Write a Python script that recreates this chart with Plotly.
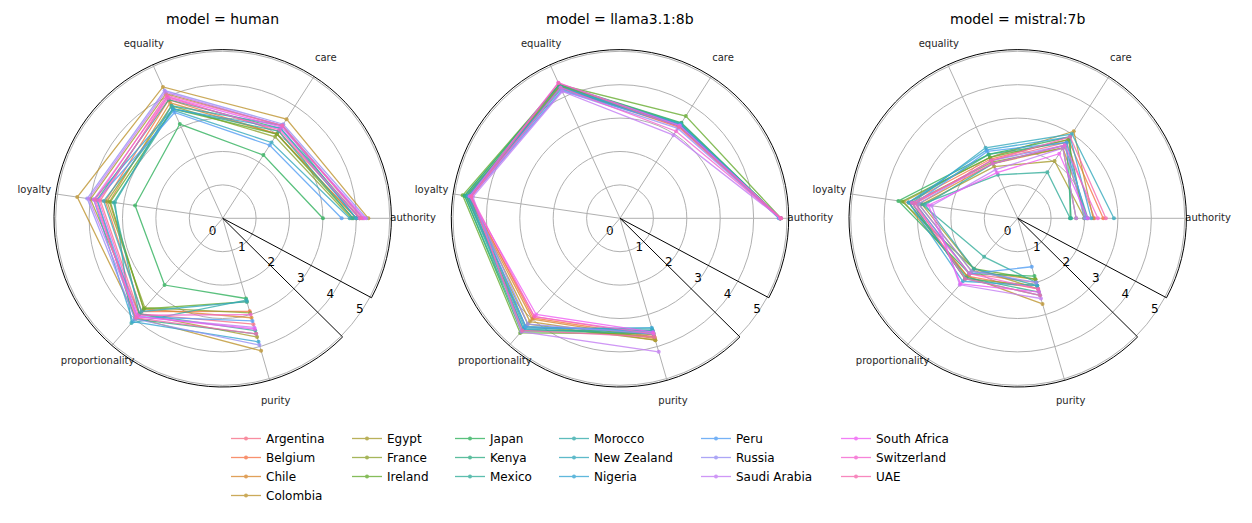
import math
import numpy as np
import plotly.graph_objects as go

# moral foundation dimensions, in the order they go round the radar
dimensions = ["authority", "care", "equality", "loyalty", "proportionality", "purity"]

countries = [
    "Argentina", "Belgium", "Chile", "Colombia", "Egypt", "France", "Ireland",
    "Japan", "Kenya", "Mexico", "Morocco", "New Zealand", "Nigeria", "Peru",
    "Russia", "Saudi Arabia", "South Africa", "Switzerland", "UAE",
]

models = ["human", "llama3.1:8b", "mistral:7b"]

# one row per country: authority, care, equality, loyalty, proportionality, purity
human_scores = [
    [4.10, 3.10, 4.00, 3.70, 3.80, 3.30],
    [4.00, 3.00, 3.90, 3.55, 3.70, 2.90],
    [4.00, 3.00, 3.80, 3.43, 3.60, 3.10],
    [4.36, 3.53, 4.32, 4.40, 3.95, 4.13],
    [4.20, 3.30, 4.10, 4.00, 3.80, 3.70],
    [3.85, 2.90, 3.70, 3.50, 3.55, 2.95],
    [3.90, 3.00, 3.60, 3.40, 3.60, 2.60],
    [3.00, 2.25, 3.10, 2.65, 2.65, 2.50],
    [4.10, 3.20, 3.90, 3.80, 4.00, 3.60],
    [3.90, 3.10, 3.60, 3.30, 3.80, 3.50],
    [4.00, 3.30, 3.70, 3.26, 4.16, 2.55],
    [3.80, 2.70, 3.55, 3.60, 3.70, 2.60],
    [4.00, 3.20, 3.60, 3.90, 4.10, 3.85],
    [3.56, 2.60, 3.48, 3.80, 3.90, 3.20],
    [4.30, 3.35, 4.20, 4.10, 4.00, 3.95],
    [4.20, 3.30, 4.15, 4.05, 3.90, 3.40],
    [4.25, 3.25, 4.00, 3.90, 3.90, 3.45],
    [4.10, 3.15, 3.95, 3.75, 3.85, 3.00],
    [4.15, 3.30, 4.05, 3.85, 3.95, 3.60],
]

llama_scores = [
    [4.80, 3.30, 4.35, 4.60, 3.90, 3.65],
    [4.78, 3.25, 4.30, 4.55, 3.95, 3.70],
    [4.80, 3.30, 4.35, 4.60, 4.00, 3.75],
    [4.79, 3.28, 4.30, 4.60, 4.10, 3.80],
    [4.78, 3.30, 4.30, 4.65, 4.20, 3.80],
    [4.80, 3.35, 4.35, 4.65, 4.30, 3.70],
    [4.82, 3.64, 4.40, 4.76, 4.55, 3.60],
    [4.80, 3.40, 4.40, 4.70, 4.50, 3.55],
    [4.80, 3.38, 4.38, 4.70, 4.45, 3.50],
    [4.79, 3.35, 4.30, 4.65, 4.40, 3.60],
    [4.80, 3.35, 4.30, 4.60, 4.35, 3.45],
    [4.78, 3.30, 4.25, 4.55, 4.30, 3.50],
    [4.80, 3.35, 4.30, 4.60, 4.40, 3.41],
    [4.75, 3.30, 4.20, 4.50, 4.30, 3.55],
    [4.78, 3.20, 4.20, 4.50, 4.20, 3.60],
    [4.80, 2.96, 4.17, 4.45, 4.50, 4.16],
    [4.82, 3.30, 4.46, 4.55, 3.82, 3.55],
    [4.80, 3.10, 4.30, 4.50, 3.90, 3.60],
    [4.82, 3.25, 4.45, 4.50, 4.45, 3.70],
]

mistral_scores = [
    [2.30, 2.70, 1.90, 3.10, 2.20, 2.00],
    [2.56, 2.80, 1.95, 3.30, 2.30, 2.20],
    [2.08, 2.50, 1.80, 3.00, 2.10, 1.90],
    [2.26, 3.10, 2.00, 3.45, 2.30, 2.67],
    [2.00, 2.04, 1.70, 2.90, 2.00, 2.20],
    [1.75, 2.50, 1.85, 3.20, 2.40, 2.10],
    [1.99, 2.80, 2.00, 3.50, 2.00, 1.90],
    [1.57, 2.90, 2.10, 3.61, 2.20, 1.80],
    [1.60, 2.70, 2.10, 3.30, 2.35, 2.30],
    [1.57, 1.64, 1.43, 2.90, 1.53, 2.00],
    [2.10, 2.60, 1.80, 2.80, 2.00, 2.10],
    [2.88, 3.00, 2.32, 3.20, 2.40, 2.40],
    [2.20, 2.90, 2.25, 3.30, 2.50, 2.10],
    [2.05, 2.70, 2.20, 3.10, 2.20, 1.51],
    [2.00, 2.60, 1.90, 3.00, 2.10, 2.00],
    [1.75, 2.50, 1.60, 2.60, 2.64, 2.50],
    [2.10, 2.30, 1.50, 2.70, 2.60, 2.30],
    [2.40, 2.60, 1.80, 3.20, 2.20, 2.20],
    [2.64, 2.90, 1.90, 3.10, 2.40, 2.40],
]

radial_ticks = [0, 1, 2, 3, 4, 5]

# the polar frame is a wedge that leaves a small gap below the right spoke
SECTOR = [-28.1, 315.3]
R_MAX = 5.05      # edge of the wedge
R_OUTER = 6.0     # range of the full-circle layer holding grid and labels
LABEL_R = 5.7
step = (SECTOR[1] - SECTOR[0]) / len(dimensions)
theta = [i * step for i in range(len(dimensions))]


# seaborn-style husl palette
M = [[3.2406, -1.5372, -0.4986], [-0.9689, 1.8758, 0.0415], [0.0557, -0.2040, 1.0570]]


def max_chroma(L, H):
    hrad = math.radians(H)
    sinH, cosH = math.sin(hrad), math.cos(hrad)
    sub1 = (L + 16) ** 3 / 1560896.0
    sub2 = sub1 if sub1 > 0.008856 else L / 903.3
    result = float("inf")
    for m1, m2, m3 in M:
        top = (0.99915 * m1 + 1.05122 * m2 + 1.14460 * m3) * sub2
        rbottom = 0.86330 * m3 - 0.17266 * m2
        lbottom = 0.12949 * m3 - 0.38848 * m1
        bottom = (rbottom * sinH + lbottom * cosH) * sub2
        for t in (0.0, 1.0):
            C = L * (top - 1.05122 * t) / (bottom + 0.17266 * sinH * t)
            if 0.0 < C < result:
                result = C
    return result


def husl_to_hex(H, S, L):
    C = max_chroma(L, H) / 100.0 * S
    U = math.cos(math.radians(H)) * C
    V = math.sin(math.radians(H)) * C
    t = (L + 16.0) / 116.0
    Y = t ** 3 if t ** 3 > 0.008856 else (116.0 * t - 16.0) / 903.3
    varU = U / (13.0 * L) + 0.19784
    varV = V / (13.0 * L) + 0.46834
    X = 0.0 - (9.0 * Y * varU) / ((varU - 4.0) * varV - varU * varV)
    Z = (9.0 * Y - (15.0 * varV * Y) - (varV * X)) / (3.0 * varV)
    rgb = []
    for row in M:
        c = row[0] * X + row[1] * Y + row[2] * Z
        c = 12.92 * c if c <= 0.0031308 else 1.055 * c ** (1 / 2.4) - 0.055
        rgb.append(int(round(min(max(c, 0.0), 1.0) * 255)))
    return "#%02x%02x%02x" % tuple(rgb)


hues = (np.linspace(0, 1, len(countries) + 1)[:-1] + 0.01) % 1 * 359
colors = [husl_to_hex(h, 0.9 * 99, 0.65 * 99) for h in hues]

# radial tick labels sit just clockwise of the first wedge edge, upright
a = math.radians(SECTOR[0])
u = np.array([math.cos(a), math.sin(a)])
n = np.array([math.sin(a), -math.cos(a)])
lab_xy = [(v - 0.08) * u + 0.5 * n for v in radial_ticks]
lab_r = [float(np.hypot(*p)) for p in lab_xy]
lab_theta = [math.degrees(math.atan2(p[1], p[0])) for p in lab_xy]

# legend columns like the original (column-major, 4 then 3 per column)
legend_columns = [0, 0, 0, 0, 1, 1, 1, 2, 2, 2, 3, 3, 3, 4, 4, 4, 5, 5, 5]
legend_text_x = [266, 387, 490, 594, 736, 876]

# page body has an 8px margin, so the figure is placed 8px in from the window
PAD = 8
W, H = 1252 - 2 * PAD, 523 - 2 * PAD
centers_x = [222.7 - PAD, 620.0 - PAD, 1017.7 - PAD]
center_y = 218.3 - PAD
radius = 168.7
radius_outer = radius * R_OUTER / R_MAX

fig = go.Figure()

for k, scores in enumerate([human_scores, llama_scores, mistral_scores]):
    base = "polar" if k == 0 else f"polar{k + 1}"
    top = f"polar{k + 4}"
    fig.add_trace(go.Scatterpolar(
        r=[LABEL_R] * len(dimensions), theta=theta, mode="text", text=dimensions,
        textposition="middle center", textfont=dict(size=10, color="#262626"),
        showlegend=False, hoverinfo="skip", subplot=base,
    ))
    fig.add_trace(go.Scatterpolar(
        r=lab_r, theta=lab_theta, mode="text", text=[str(v) for v in radial_ticks],
        textposition="middle center", textfont=dict(size=12, color="black"),
        showlegend=False, hoverinfo="skip", subplot=base,
    ))
    for i, country in enumerate(countries):
        col = legend_columns[i]
        fig.add_trace(go.Scatterpolar(
            r=scores[i], theta=theta, mode="lines+markers",
            line=dict(color=colors[i], width=1.3),
            marker=dict(size=4, color=colors[i]),
            opacity=0.8,
            name=country, legendgroup=country, showlegend=(k == 0),
            legend="legend" if col == 0 else f"legend{col + 1}",
            subplot=top,
        ))

layout = dict(
    width=W, height=H, autosize=False,
    margin=dict(l=0, r=0, t=0, b=0),
    paper_bgcolor="white",
    font=dict(family="DejaVu Sans", color="black"),
    annotations=[],
)

for k, model in enumerate(models):
    cx = centers_x[k]
    # full circles of the radial grid plus the text labels underneath
    layout["polar" if k == 0 else f"polar{k + 1}"] = dict(
        domain=dict(x=[(cx - radius_outer) / W, (cx + radius_outer) / W],
                    y=[1 - (center_y + radius_outer) / H, 1 - (center_y - radius_outer) / H]),
        bgcolor="rgba(0,0,0,0)",
        radialaxis=dict(range=[0, R_OUTER], tickvals=radial_ticks, showline=False,
                        showticklabels=False, ticks="",
                        gridcolor="#b0b0b0", gridwidth=0.8),
        angularaxis=dict(showgrid=False, showline=False, showticklabels=False, ticks=""),
    )
    # the wedge with spokes and the data on top
    layout[f"polar{k + 4}"] = dict(
        domain=dict(x=[(cx - radius) / W, (cx + radius) / W],
                    y=[1 - (center_y + radius) / H, 1 - (center_y - radius) / H]),
        sector=SECTOR, bgcolor="rgba(0,0,0,0)",
        radialaxis=dict(range=[0, R_MAX], showgrid=False, showline=False,
                        showticklabels=False, ticks=""),
        angularaxis=dict(tickmode="array", tickvals=theta, showticklabels=False,
                         direction="counterclockwise", rotation=0,
                         showline=True, linecolor="black", linewidth=1,
                         gridcolor="#b0b0b0", gridwidth=0.8, ticks=""),
    )
    layout["annotations"].append(dict(
        text=f"model = {model}", x=cx / W, y=1 - (19 - PAD) / H,
        xref="paper", yref="paper", xanchor="center", yanchor="middle",
        showarrow=False, font=dict(size=14),
    ))

for c, tx in enumerate(legend_text_x):
    key = "legend" if c == 0 else f"legend{c + 1}"
    layout[key] = dict(x=(tx - PAD - 40) / W, y=1 - (438 - PAD - 14) / H,
                       xanchor="left", yanchor="top",
                       bgcolor="rgba(0,0,0,0)", font=dict(size=12), tracegroupgap=0)

fig.update_layout(**layout)
fig.write_html("out.html")
